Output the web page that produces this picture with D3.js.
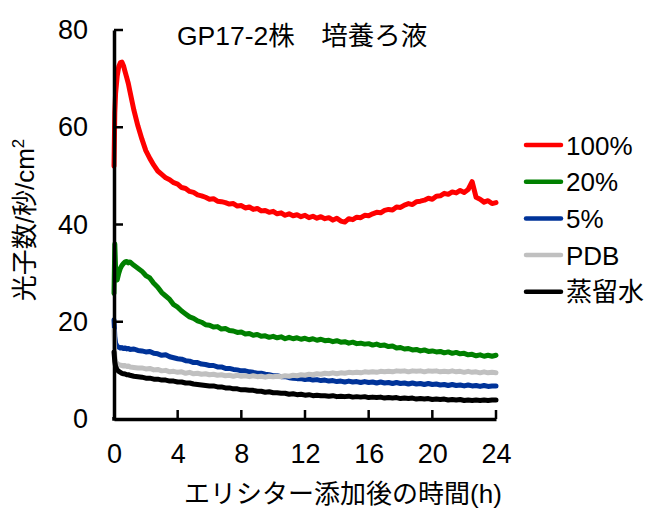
<!DOCTYPE html>
<html>
<head>
<meta charset="utf-8">
<script src="https://cdn.jsdelivr.net/npm/d3@7"></script>
<style>
  html, body { margin: 0; padding: 0; background: #fff; }
  svg { display: block; }
  text { font-family: "Liberation Sans", Arial, "Noto Sans CJK JP", sans-serif; fill: #000; }
</style>
</head>
<body>
<svg id="chart" width="651" height="514"></svg>
<script>
// Sampling times (hours after elicitor addition)
const hours = [
  0, 0.05, 0.1, 0.2, 0.3, 0.4, 0.5, 0.6, 0.7, 0.8, 0.9, 1.0,
  1.25, 1.5, 1.75, 2, 2.25, 2.5, 2.75, 3, 3.25, 3.5, 3.75, 4,
  4.25, 4.5, 4.75, 5, 5.25, 5.5, 5.75, 6, 6.25, 6.5, 6.75, 7,
  7.25, 7.5, 7.75, 8, 8.25, 8.5, 8.75, 9, 9.25, 9.5, 9.75, 10,
  10.25, 10.5, 10.75, 11, 11.25, 11.5, 11.75, 12, 12.25, 12.5, 12.75, 13,
  13.25, 13.5, 13.75, 14, 14.25, 14.5, 14.75, 15, 15.25, 15.5, 15.75, 16,
  16.25, 16.5, 16.75, 17, 17.25, 17.5, 17.75, 18, 18.25, 18.5, 18.75, 19,
  19.25, 19.5, 19.75, 20, 20.25, 20.5, 20.75, 21, 21.25, 21.5, 21.75, 22,
  22.25, 22.5, 22.75, 23, 23.25, 23.5, 23.75, 24
];

// Photon counts (counts / s / cm2)
const conc100 = [
  52.0, 63.0, 67.0, 70.5, 72.5, 73.3, 73.4, 72.6, 71.4, 70.2, 69.0, 67.4,
  63.5, 60.3, 57.6, 55.2, 53.6, 52.2, 51.0, 50.3, 49.6, 49.2, 48.6, 48.3,
  47.6, 47.4, 46.8, 46.6, 46.1, 45.9, 45.6, 45.2, 45.3, 44.8, 44.7, 44.5,
  44.2, 44.3, 43.8, 43.9, 43.4, 43.6, 43.1, 43.3, 42.8, 42.9, 42.5, 42.7,
  42.2, 42.4, 41.9, 42.2, 41.8, 42.0, 41.6, 41.9, 41.4, 41.7, 41.3, 41.6,
  41.2, 41.4, 40.9, 41.3, 40.7, 40.5, 41.2, 41.0, 41.5, 41.4, 41.9, 41.8,
  42.2, 42.5, 42.4, 42.9, 43.1, 43.0, 43.6, 43.5, 44.0, 44.3, 44.1, 44.7,
  44.8, 45.0, 45.4, 45.2, 45.8, 45.9, 46.4, 46.2, 46.7, 46.5, 47.0, 46.6,
  47.2, 48.8, 45.6, 45.2, 44.6, 44.9, 44.3, 44.5
];
const conc20 = [
  25.8, 36.0, 31.0, 28.6, 30.0, 31.0, 31.6, 32.0, 32.3, 32.4, 32.1, 32.3,
  31.6, 31.0, 30.4, 29.5, 29.0, 27.9, 27.1, 26.0, 25.3, 24.6, 23.5, 23.0,
  22.2, 21.6, 21.0, 20.7, 20.2, 19.9, 19.4, 19.3, 18.9, 19.0, 18.5, 18.6,
  18.2, 18.1, 17.8, 17.9, 17.5, 17.6, 17.2, 17.4, 17.0, 17.1, 16.8, 17.0,
  16.7, 16.9, 16.5, 16.8, 16.5, 16.7, 16.4, 16.6, 16.3, 16.5, 16.2, 16.4,
  16.1, 16.2, 15.9, 16.1, 15.8, 15.9, 15.6, 15.8, 15.5, 15.6, 15.4, 15.5,
  15.2, 15.4, 15.1, 15.2, 14.9, 15.0, 14.6, 14.7, 14.4, 14.5, 14.2, 14.3,
  14.0, 14.2, 13.9, 14.0, 13.8, 13.9, 13.6, 13.8, 13.5, 13.7, 13.4, 13.5,
  13.2, 13.3, 13.0, 13.2, 12.9, 13.1, 12.9, 13.1
];
const conc5 = [
  20.4, 17.0, 15.6, 14.9, 14.8, 14.6, 14.7, 14.5, 14.6, 14.4, 14.5, 14.3,
  14.4, 14.1, 14.0, 13.8, 13.9, 13.5, 13.4, 13.1, 13.2, 12.8, 12.6, 12.4,
  12.3, 12.0, 11.9, 11.6, 11.6, 11.3, 11.2, 11.0, 11.0, 10.7, 10.7, 10.4,
  10.4, 10.2, 10.1, 9.9, 9.9, 9.7, 9.6, 9.4, 9.4, 9.2, 9.1, 8.9,
  8.9, 8.7, 8.7, 8.5, 8.4, 8.3, 8.3, 8.1, 8.2, 8.0, 8.1, 7.9,
  8.0, 7.8, 7.9, 7.7, 7.8, 7.6, 7.8, 7.6, 7.7, 7.5, 7.7, 7.5,
  7.6, 7.4, 7.6, 7.4, 7.5, 7.3, 7.5, 7.3, 7.4, 7.2, 7.4, 7.2,
  7.3, 7.1, 7.3, 7.1, 7.2, 7.0, 7.1, 6.9, 7.1, 6.9, 7.0, 6.8,
  7.0, 6.8, 6.9, 6.7, 6.9, 6.7, 6.8, 6.8
];
const pdb = [
  18.3, 13.0, 11.8, 11.4, 11.2, 11.1, 11.0, 10.9, 11.0, 10.8, 10.9, 10.7,
  10.6, 10.5, 10.5, 10.3, 10.4, 10.1, 10.2, 9.9, 10.0, 9.7, 9.8, 9.6,
  9.7, 9.4, 9.6, 9.3, 9.4, 9.2, 9.3, 9.1, 9.2, 9.0, 9.1, 8.9,
  9.0, 8.8, 9.0, 8.8, 8.9, 8.7, 8.9, 8.7, 8.8, 8.6, 8.8, 8.7,
  8.8, 8.7, 8.9, 8.8, 9.0, 8.9, 9.1, 9.0, 9.2, 9.1, 9.3, 9.2,
  9.4, 9.3, 9.5, 9.3, 9.5, 9.4, 9.6, 9.5, 9.6, 9.5, 9.7, 9.6,
  9.7, 9.6, 9.8, 9.7, 9.8, 9.7, 9.9, 9.8, 9.9, 9.7, 9.9, 9.8,
  9.9, 9.7, 9.9, 9.8, 9.9, 9.7, 9.8, 9.7, 9.9, 9.7, 9.8, 9.6,
  9.8, 9.6, 9.7, 9.5, 9.7, 9.5, 9.6, 9.5
];
const water = [
  13.8, 11.8, 10.8, 10.1, 9.8, 9.6, 9.4, 9.3, 9.25, 9.1, 9.1, 9.0,
  8.8, 8.7, 8.6, 8.4, 8.4, 8.2, 8.2, 8.0, 8.0, 7.8, 7.8, 7.6,
  7.6, 7.4, 7.4, 7.2, 7.1, 7.0, 6.9, 6.8, 6.8, 6.6, 6.6, 6.4,
  6.4, 6.2, 6.2, 6.0, 6.0, 5.9, 5.9, 5.7, 5.7, 5.5, 5.6, 5.4,
  5.4, 5.3, 5.3, 5.1, 5.2, 5.0, 5.1, 4.9, 5.0, 4.8, 4.9, 4.8,
  4.8, 4.7, 4.8, 4.6, 4.7, 4.6, 4.7, 4.5, 4.6, 4.5, 4.6, 4.4,
  4.5, 4.4, 4.5, 4.3, 4.4, 4.3, 4.4, 4.2, 4.3, 4.2, 4.3, 4.1,
  4.2, 4.1, 4.2, 4.0, 4.1, 4.0, 4.1, 3.9, 4.0, 3.9, 4.0, 3.8,
  3.9, 3.8, 3.9, 3.8, 3.9, 3.8, 3.9, 3.9
];

const seriesNames = ["100%", "20%", "5%", "PDB", "蒸留水"];
const seriesColors = ["#ff0000", "#008000", "#003399", "#c0c0c0", "#000000"];
const seriesValues = [conc100, conc20, conc5, pdb, water];

const xTicks = [0, 4, 8, 12, 16, 20, 24];
const yTicks = [0, 20, 40, 60, 80];

const chartTitle = "GP17-2株\u3000培養ろ液";
const xTitle = "エリシター添加後の時間(h)";
const yTitleMain = "光子数/秒/cm";
const yTitleSup = "2";

// ---- drawing ----
const svg = d3.select("#chart");
svg.append("rect").attr("width", 651).attr("height", 514).attr("fill", "#fff");

const x = d3.scaleLinear().domain([0, 24]).range([114, 496]);
const y = d3.scaleLinear().domain([0, 80]).range([419, 30]);

// Series lines
const line = d3.line()
  .x((d, i) => x(hours[i]))
  .y(d => y(d))
  .curve(d3.curveLinear);

const plot = svg.append("g");
seriesValues.forEach((vals, k) => {
  plot.append("path")
    .datum(vals)
    .attr("d", line)
    .attr("fill", "none")
    .attr("stroke", seriesColors[k])
    .attr("stroke-width", 5)
    .attr("stroke-linejoin", "round")
    .attr("stroke-linecap", "round");
});

// Axes: labels from d3 axes, tick marks pointing into the plot
const yAxis = d3.axisLeft(y)
  .tickValues(yTicks)
  .tickSize(0)
  .tickPadding(26)
  .tickFormat(d3.format("d"));
const xAxis = d3.axisBottom(x)
  .tickValues(xTicks)
  .tickSize(0)
  .tickPadding(25)
  .tickFormat(d3.format("d"));

const gy = svg.append("g").attr("transform", "translate(114,0)").call(yAxis);
const gx = svg.append("g").attr("transform", "translate(0,419)").call(xAxis);

[gx, gy].forEach(g => {
  g.select(".domain").attr("stroke", "#000").attr("stroke-width", 3.5);
  g.selectAll(".tick line").remove();
  g.selectAll(".tick text")
    .attr("font-size", 27)
    .attr("font-family", "'Liberation Sans', Arial, sans-serif")
    .attr("fill", "#000");
});

const tickMarks = svg.append("g").attr("stroke", "#000").attr("stroke-width", 2.5);
xTicks.filter(t => t > 0).forEach(t => {
  tickMarks.append("line")
    .attr("x1", x(t)).attr("x2", x(t))
    .attr("y1", y(0)).attr("y2", y(0) - 9);
});
yTicks.filter(t => t > 0).forEach(t => {
  tickMarks.append("line")
    .attr("x1", x(0)).attr("x2", x(0) + 9)
    .attr("y1", y(t)).attr("y2", y(t));
});
// close the corner where the two axes meet
svg.append("line")
  .attr("x1", x(0)).attr("x2", x(0))
  .attr("y1", y(0) - 2).attr("y2", y(0) + 1.75)
  .attr("stroke", "#000").attr("stroke-width", 3.5);

// Chart title
svg.append("text")
  .attr("x", 177).attr("y", 45)
  .attr("font-size", 26.5)
  .text(chartTitle);

// Axis titles
svg.append("text")
  .attr("x", 343).attr("y", 503)
  .attr("text-anchor", "middle")
  .attr("font-size", 26)
  .text(xTitle);

const yt = svg.append("text")
  .attr("transform", "translate(34,220) rotate(-90)")
  .attr("text-anchor", "middle")
  .attr("font-size", 26);
yt.append("tspan").text(yTitleMain);
yt.append("tspan").attr("dy", -10).attr("font-size", 17).text(yTitleSup);

// Legend
const legend = svg.append("g");
seriesNames.forEach((name, k) => {
  const cy = 145 + k * 36.7;
  legend.append("line")
    .attr("x1", 526).attr("x2", 561)
    .attr("y1", cy).attr("y2", cy)
    .attr("stroke", seriesColors[k])
    .attr("stroke-width", 4.5)
    .attr("stroke-linecap", "round");
  legend.append("text")
    .attr("x", 566).attr("y", cy + 9.5)
    .attr("font-size", 26)
    .text(name);
});
</script>
</body>
</html>
